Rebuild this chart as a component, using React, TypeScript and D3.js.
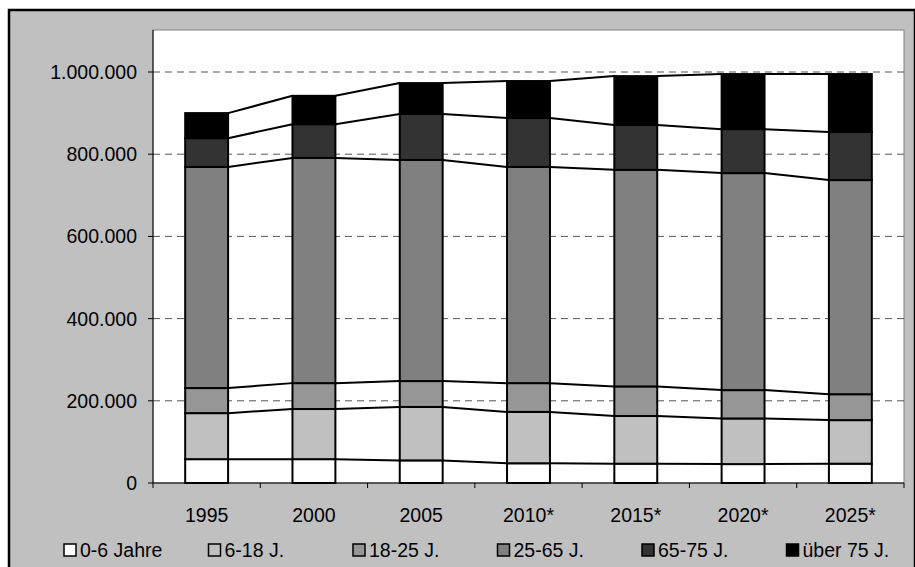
import React from "react";
import * as d3 from "d3";

const jahre = ["1995", "2000", "2005", "2010*", "2015*", "2020*", "2025*"];
const serien = ["0-6 Jahre", "6-18 J.", "18-25 J.", "25-65 J.", "65-75 J.", "über 75 J."];
const farben = ["#ffffff", "#c0c0c0", "#969696", "#808080", "#333333", "#000000"];
const w0_6 = [58000, 58000, 55000, 48000, 47000, 46000, 47000];
const w6_18 = [112000, 122000, 130000, 125000, 116000, 111000, 106000];
const w18_25 = [61000, 63000, 63000, 70000, 72000, 69000, 63000];
const w25_65 = [538000, 548000, 538000, 526000, 527000, 528000, 521000];
const w65_75 = [70000, 82000, 112000, 119000, 109000, 107000, 117000];
const w75 = [61000, 69000, 75000, 90000, 119000, 134000, 141000];
const yTicks = [0, 200000, 400000, 600000, 800000, 1000000];

const werte = [w0_6, w6_18, w18_25, w25_65, w65_75, w75];

export default function App() {
  const W = 915, H = 567;
  const left = 153, right = 904, top = 30, bottom = 483;
  const x = d3.scaleBand().domain(jahre).range([left, right]).paddingInner(0.6).paddingOuter(0.3);
  const band = d3.scaleBand().domain(jahre).range([left, right]);
  const y = d3.scaleLinear().domain([0, 1000000]).range([bottom, 72]);
  const tabelle = jahre.map((j, i) => {
    const o: any = { jahr: j };
    serien.forEach((s, k) => (o[s] = werte[k][i]));
    return o;
  });
  const stack = d3.stack<any>().keys(serien)(tabelle);
  const fmt = (v: number) => d3.format(",")(v).replace(/,/g, ".");
  const bw = x.bandwidth();

  return (
    <svg width={W} height={H} style={{ position: "absolute", left: 0, top: 0 }} fontFamily="Liberation Sans, Arial, sans-serif">
      <rect x={9} y={10} width={906} height={560} fill="#c0c0c0" stroke="#000" strokeWidth={2.5} />
      <rect x={left} y={top} width={right - left} height={bottom - top} fill="#fff" stroke="#808080" strokeWidth={1} />
      {yTicks.slice(1).map(t => (
        <line key={t} x1={left} x2={right} y1={y(t)} y2={y(t)} stroke="#555" strokeDasharray="7,5" strokeWidth={1} />
      ))}
      {stack.map((layer, k) => (
        <g key={k}>
          {layer.map((d, i) => (
            <rect key={i} x={x(jahre[i])!} y={y(d[1])} width={bw} height={y(d[0]) - y(d[1])}
              fill={farben[k]} stroke="#000" strokeWidth={2} />
          ))}
          {layer.slice(0, -1).map((d, i) => (
            <line key={"l" + i} x1={x(jahre[i])! + bw} y1={y(d[1])} x2={x(jahre[i + 1])!} y2={y(layer[i + 1][1])}
              stroke="#000" strokeWidth={2} />
          ))}
        </g>
      ))}
      <line x1={left} x2={left} y1={top} y2={bottom} stroke="#000" />
      <line x1={left} x2={right} y1={bottom} y2={bottom} stroke="#000" />
      {yTicks.map(t => (
        <g key={t}>
          <line x1={left - 5} x2={left} y1={y(t)} y2={y(t)} stroke="#000" />
          <text x={left - 16} y={y(t)} dy="0.36em" textAnchor="end" fontSize={19.5}>{fmt(t)}</text>
        </g>
      ))}
      {jahre.map((j, i) => (
        <g key={j}>
          <line x1={band(j)! + band.bandwidth()} x2={band(j)! + band.bandwidth()} y1={bottom} y2={bottom + 5} stroke="#000" />
          <text x={x(j)! + bw / 2} y={522} textAnchor="middle" fontSize={19.5}>{j}</text>
        </g>
      ))}
      <line x1={left} x2={left} y1={bottom} y2={bottom + 5} stroke="#000" />
      {serien.map((s, k) => {
        const lx = 64 + k * 144.5;
        return (
          <g key={s}>
            <rect x={lx} y={544} width={12} height={12} fill={farben[k]} stroke="#000" strokeWidth={1.5} />
            <text x={lx + 16} y={557} fontSize={19.5}>{s}</text>
          </g>
        );
      })}
    </svg>
  );
}
